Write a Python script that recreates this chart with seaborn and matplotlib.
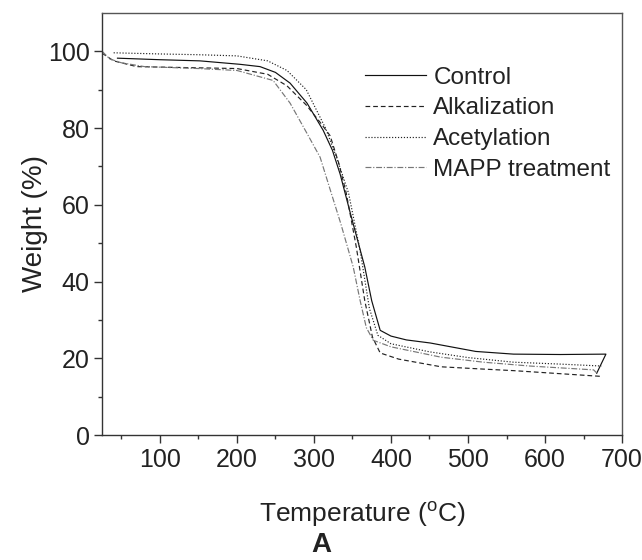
import matplotlib.pyplot as plt
import seaborn as sns
import pandas as pd

# Temperatur (°C) / ağırlık (%) verileri
control_t = [45, 100, 152, 204, 230, 250, 269, 291, 312, 324, 334, 347, 366, 375, 386, 400, 420, 451, 510, 559, 620, 679, 667]
control_w = [98.2, 97.8, 97.5, 96.6, 96.0, 94.5, 91.7, 86.5, 79.4, 74.2, 68.0, 58.0, 43.8, 35.0, 27.3, 25.8, 24.8, 24.0, 21.8, 21.1, 21.0, 21.1, 16.1]

alkali_t = [25, 40, 70, 120, 200, 240, 265, 290, 308, 321, 332, 342, 355, 366, 376, 386, 410, 465, 520, 559, 620, 673]
alkali_w = [99.5, 97.5, 96.0, 95.8, 95.5, 94.0, 91.0, 86.0, 81.5, 78.0, 71.0, 63.0, 49.0, 35.0, 25.5, 21.4, 19.8, 17.8, 17.2, 16.8, 16.0, 15.3]

acetyl_t = [40, 100, 150, 200, 240, 265, 290, 315, 330, 345, 360, 372, 383, 400, 450, 500, 559, 620, 673]
acetyl_w = [99.6, 99.3, 99.1, 98.8, 97.5, 95.0, 90.0, 80.0, 72.0, 63.0, 48.0, 33.0, 26.0, 23.8, 21.7, 20.2, 19.0, 18.5, 18.0]

mapp_t = [25, 35, 50, 80, 150, 200, 247, 269, 291, 308, 321, 335, 351, 360, 368, 377, 400, 465, 520, 580, 663, 668]
mapp_w = [100.0, 98.0, 97.0, 96.0, 95.5, 95.0, 92.4, 86.5, 78.6, 72.4, 64.0, 55.0, 43.8, 35.0, 28.0, 24.7, 23.0, 20.3, 19.0, 18.0, 17.0, 16.0]

labels = ["Control", "Alkalization", "Acetylation", "MAPP treatment"]

plt.rcParams["font.family"] = ["Liberation Sans", "DejaVu Sans"]
plt.rcParams["mathtext.fontset"] = "custom"
plt.rcParams["mathtext.rm"] = "Liberation Sans"

fig = plt.figure(figsize=(6.42, 5.6), dpi=100)
ax = fig.add_axes([0.159, 0.223, 0.81, 0.754])

series = [
    (control_t, control_w, "-", "#111111"),
    (alkali_t, alkali_w, (0, (4, 2.5)), "#222222"),
    (acetyl_t, acetyl_w, (0, (1, 1.5)), "#222222"),
    (mapp_t, mapp_w, (0, (5, 1.5, 1, 1.5)), "#777777"),
]
for (t, w, ls, col), lab in zip(series, labels):
    df = pd.DataFrame({"T": t, "W": w})
    sns.lineplot(data=df, x="T", y="W", sort=False, estimator=None, ax=ax,
                 color=col, linestyle=ls, linewidth=0.85, label=lab)

ax.set_xlim(25, 700)
ax.set_ylim(0, 110)
ax.set_xticks([100, 200, 300, 400, 500, 600, 700])
ax.set_xticks(range(50, 700, 100), minor=True)
ax.set_yticks([0, 20, 40, 60, 80, 100])
ax.set_yticks([10, 30, 50, 70, 90], minor=True)
ax.tick_params(axis="both", which="major", direction="out", length=6, width=1,
               labelsize=18, color="#333333", labelcolor="#222222", pad=3)
ax.tick_params(axis="both", which="minor", direction="out", length=3, width=1, color="#333333")
for s in ax.spines.values():
    s.set_color("#555555")
    s.set_linewidth(1)
ax.spines["left"].set_color("#333333")
ax.spines["bottom"].set_color("#333333")

ax.set_xlabel("Temperature ($^{\\mathrm{o}}$C)", fontsize=19, color="#222222", labelpad=20)
ax.set_ylabel("Weight (%)", fontsize=20, color="#222222", labelpad=0)
fig.text(0.5, 0.027, "A", ha="center", va="center", fontsize=20, fontweight="bold", color="#222222")

leg = ax.legend(loc="upper left", bbox_to_anchor=(0.506, 0.873), frameon=False, fontsize=17.5,
                handlelength=2.5, handletextpad=0.3, labelspacing=0.36, borderaxespad=0, borderpad=0)
for txt in leg.get_texts():
    txt.set_color("#222222")

fig.savefig("out.png", dpi=100)
